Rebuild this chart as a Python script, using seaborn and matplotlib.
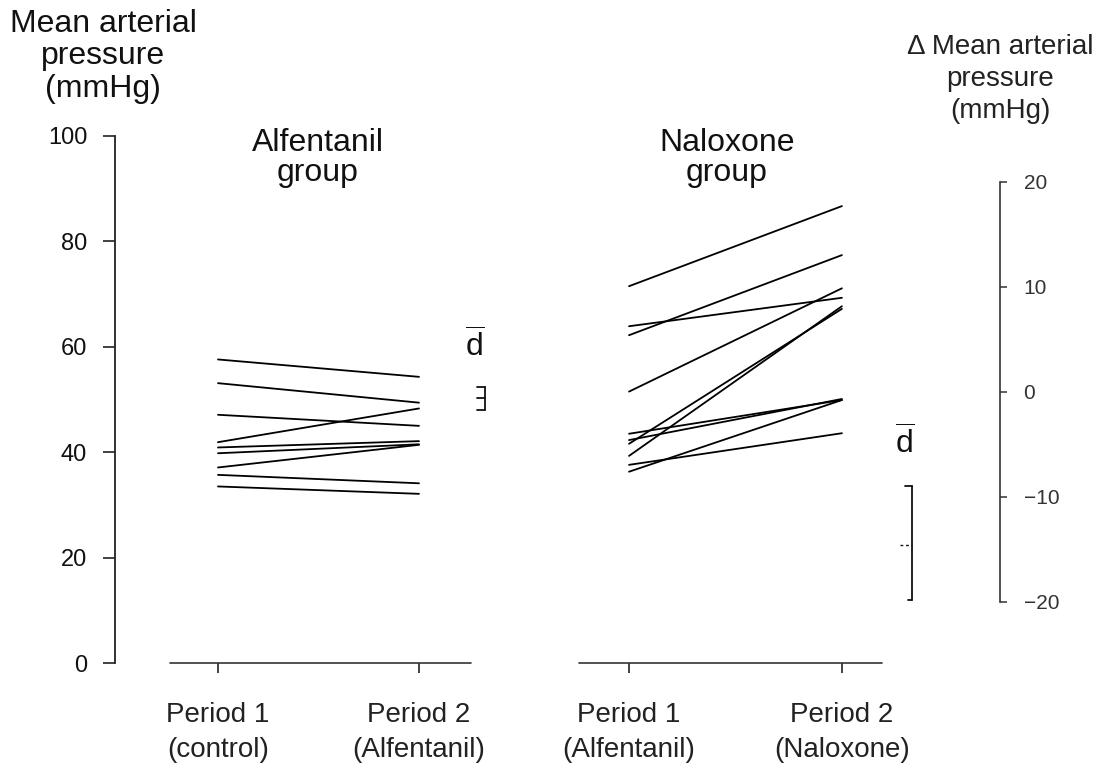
import matplotlib
matplotlib.use("Agg")
import matplotlib.pyplot as plt
import pandas as pd
import seaborn as sns

# ---- data -------------------------------------------------------------
period_labels = ["Period 1\n(control)", "Period 2\n(Alfentanil)",
                 "Period 1\n(Alfentanil)", "Period 2\n(Naloxone)"]
group_titles = ["Alfentanil\ngroup", "Naloxone\ngroup"]

alf_period1 = [57.6, 53.1, 47.1, 41.9, 40.9, 39.8, 37.1, 35.7, 33.5]
alf_period2 = [54.3, 49.4, 45.0, 48.3, 42.1, 41.5, 41.4, 34.1, 32.1]
nal_period1 = [71.5, 63.9, 62.2, 51.5, 43.5, 42.3, 41.6, 39.3, 37.6, 36.3]
nal_period2 = [86.7, 69.3, 77.4, 71.1, 49.9, 50.1, 67.2, 67.7, 43.6, 49.9]

# mean difference (d-bar) with its interval on the delta scale: upper, centre, lower
alf_dbar = [0.5, -0.6, -1.7]
nal_dbar = [-9.0, -14.6, -19.8]

left_ticks = [0, 20, 40, 60, 80, 100]
right_ticks = [-20, -10, 0, 10, 20]
right_tick_labels = ["\u221220", "\u221210", "0", "10", "20"]

# ---- layout -----------------------------------------------------------
period_x = [0.0, 1.0, 2.045, 3.104]

rows = []
for i, (a, b) in enumerate(zip(alf_period1, alf_period2)):
    rows.append(dict(subject=f"A{i}", x=period_x[0], mmHg=a))
    rows.append(dict(subject=f"A{i}", x=period_x[1], mmHg=b))
for i, (a, b) in enumerate(zip(nal_period1, nal_period2)):
    rows.append(dict(subject=f"N{i}", x=period_x[2], mmHg=a))
    rows.append(dict(subject=f"N{i}", x=period_x[3], mmHg=b))
df = pd.DataFrame(rows)

sns.set_theme(style="white")
plt.rcParams["font.family"] = ["Liberation Sans", "DejaVu Sans"]
plt.rcParams["mathtext.fontset"] = "custom"
plt.rcParams["mathtext.rm"] = "Liberation Sans"

ink = "#111111"
fig = plt.figure(figsize=(11, 7.7), dpi=100)
ax = fig.add_axes([115 / 1100, 107 / 770, 885 / 1100, 527 / 770])

sns.lineplot(data=df, x="x", y="mmHg", units="subject", estimator=None,
             color="black", lw=1.3, sort=False, legend=False, ax=ax)

ax.set_xlim(-0.5124, 3.8905)
ax.set_ylim(0, 100)
ax.set_xlabel("")
ax.set_ylabel("")

for side in ("top", "right", "bottom"):
    ax.spines[side].set_visible(False)
ax.spines["left"].set_bounds(0, 100)
ax.spines["left"].set_color("#222222")
ax.spines["left"].set_linewidth(1.3)

ax.set_yticks(left_ticks)
ax.set_yticklabels([str(t) for t in left_ticks])
ax.tick_params(axis="y", direction="out", length=9, width=1.2,
               color="#222222", pad=11, labelsize=17, labelcolor=ink)

ax.set_xticks(period_x)
ax.set_xticklabels(period_labels, linespacing=1.48)
ax.tick_params(axis="x", direction="out", length=7, width=1.2, bottom=True,
               color="#222222", pad=21, labelsize=20, labelcolor="#222222")

# baseline segments under each group
for x0, x1 in [(period_x[0] - 0.24, period_x[1] + 0.26),
               (period_x[2] - 0.25, period_x[3] + 0.20)]:
    ax.plot([x0, x1], [0, 0], color="#333333", lw=1.2, clip_on=False)

# group titles
for xc, title in zip([0.4975, 2.532], group_titles):
    ax.text(xc, 101.5, title, ha="center", va="top", fontsize=23,
            linespacing=0.98, color=ink, clip_on=False)

# ---- right (delta) axis -----------------------------------------------
ax2 = ax.twinx()
ax2.set_ylim(-25.81, 24.38)
for side in ("top", "left", "bottom"):
    ax2.spines[side].set_visible(False)
ax2.spines["right"].set_bounds(-20, 20)
ax2.spines["right"].set_color("#333333")
ax2.spines["right"].set_linewidth(1.2)
ax2.set_yticks(right_ticks)
ax2.set_yticklabels(right_tick_labels)
ax2.tick_params(axis="y", direction="out", length=5, width=1.1,
                color="#333333", pad=12, labelsize=15, labelcolor="#333333")
ax2.grid(False)

# d-bar markers with their intervals
def dbar_bracket(xb, vals, prongs, text_x, text_y, dashed_mid=False):
    hi, mid, lo = vals
    ax2.plot([xb, xb], [lo, hi], color=ink, lw=1.3, clip_on=False)
    ax2.plot([xb - prongs[0], xb], [hi, hi], color=ink, lw=1.3, clip_on=False)
    ax2.plot([xb - prongs[1], xb], [mid, mid], color=ink, lw=1.0 if dashed_mid else 1.3,
             ls=(0, (2, 2)) if dashed_mid else "-", clip_on=False)
    ax2.plot([xb - prongs[2], xb], [lo, lo], color=ink, lw=1.3, clip_on=False)
    ax2.text(text_x, text_y, r"$\overline{\mathrm{d}}$", ha="center", va="center",
             fontsize=23, color=ink)

dbar_bracket(period_x[1] + 0.328, alf_dbar, (0.04, 0.04, 0.04),
             period_x[1] + 0.279, alf_dbar[0] + 3.8)
dbar_bracket(period_x[3] + 0.349, nal_dbar, (0.035, 0.06, 0.02),
             period_x[3] + 0.314, nal_dbar[0] + 4.1, dashed_mid=True)

# ---- axis titles ------------------------------------------------------
fig.text(103 / 1100, 1 - 9 / 770, "Mean arterial\npressure\n(mmHg)",
         ha="center", va="top", fontsize=23, linespacing=1.1, color=ink)
fig.text(1000 / 1100, 1 - 34 / 770, "\u0394 Mean arterial\npressure\n(mmHg)",
         ha="center", va="top", fontsize=20, linespacing=1.3, color="#222222")

fig.savefig("out.png", dpi=100, facecolor="white")
